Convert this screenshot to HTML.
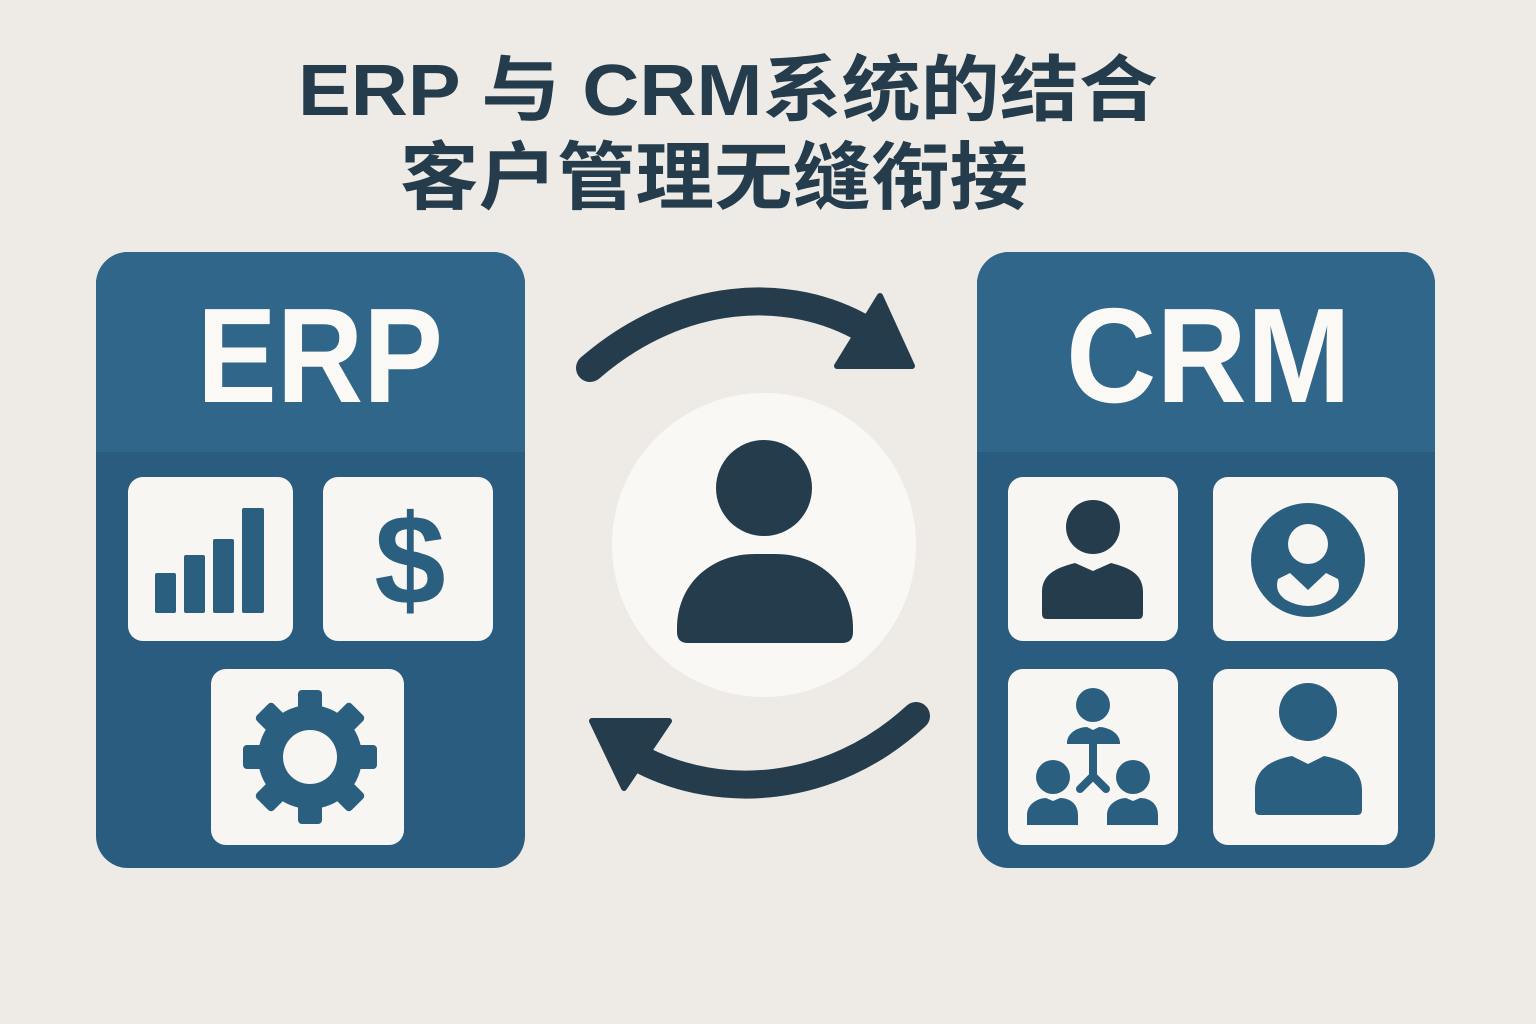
<!DOCTYPE html>
<html><head><meta charset="utf-8"><style>
html,body{margin:0;padding:0;background:#eeebe7;}
svg{display:block;}
</style></head><body>
<svg width="1536" height="1024" viewBox="0 0 1536 1024" xmlns="http://www.w3.org/2000/svg">
<rect width="1536" height="1024" fill="#eeebe7"/>
<g font-family="'Liberation Sans','Noto Sans CJK SC',sans-serif" font-weight="bold" fill="#243c4b">
<text x="298" y="115" font-size="72" textLength="860" lengthAdjust="spacingAndGlyphs">ERP 与 CRM系统的结合</text>
<text x="400" y="203" font-size="74" textLength="628" lengthAdjust="spacingAndGlyphs">客户管理无缝衔接</text>
</g>
<defs>
<clipPath id="cl"><rect x="96" y="252" width="429" height="616" rx="32"/></clipPath>
<clipPath id="cr"><rect x="977" y="252" width="458" height="616" rx="32"/></clipPath>
</defs>
<g clip-path="url(#cl)">
<rect x="96" y="252" width="429" height="616" fill="#295c7e"/>
<rect x="96" y="252" width="429" height="200" fill="#30668a"/>
</g>
<g clip-path="url(#cr)">
<rect x="977" y="252" width="458" height="616" fill="#295c7e"/>
<rect x="977" y="252" width="458" height="200" fill="#30668a"/>
</g>
<g font-family="'Liberation Sans',sans-serif" font-weight="bold" fill="#fbf9f6">
<text x="197" y="402" font-size="135" textLength="246" lengthAdjust="spacingAndGlyphs">ERP</text>
<text x="1066" y="402" font-size="135" textLength="285" lengthAdjust="spacingAndGlyphs">CRM</text>
</g>
<g fill="#f8f6f3">
<rect x="128" y="477" width="165" height="164" rx="15"/>
<rect x="323" y="477" width="170" height="164" rx="15"/>
<rect x="211" y="669" width="193" height="176" rx="15"/>
<rect x="1008" y="477" width="170" height="164" rx="15"/>
<rect x="1213" y="477" width="185" height="164" rx="15"/>
<rect x="1008" y="669" width="170" height="176" rx="15"/>
<rect x="1213" y="669" width="185" height="176" rx="15"/>
</g>
<g fill="#2b5f80">
<rect x="155" y="573" width="21" height="40" rx="2"/>
<rect x="184" y="555" width="21" height="58" rx="2"/>
<rect x="213" y="539" width="21" height="74" rx="2"/>
<rect x="242" y="508" width="22" height="105" rx="2"/>
</g>
<text x="410" y="604" font-family="'Liberation Sans',sans-serif" font-weight="bold" font-size="128" fill="#2b5f80" text-anchor="middle">$</text>
<g fill="#2b5f80" transform="translate(310,757)">
<circle r="52"/>
<rect x="-12" y="-67" width="24" height="30" rx="4"/>
<rect x="-12" y="-67" width="24" height="30" rx="4" transform="rotate(45)"/>
<rect x="-12" y="-67" width="24" height="30" rx="4" transform="rotate(90)"/>
<rect x="-12" y="-67" width="24" height="30" rx="4" transform="rotate(135)"/>
<rect x="-12" y="-67" width="24" height="30" rx="4" transform="rotate(180)"/>
<rect x="-12" y="-67" width="24" height="30" rx="4" transform="rotate(225)"/>
<rect x="-12" y="-67" width="24" height="30" rx="4" transform="rotate(270)"/>
<rect x="-12" y="-67" width="24" height="30" rx="4" transform="rotate(315)"/>
<circle r="27" fill="#f8f6f3"/>
</g>
<circle cx="764" cy="545" r="152" fill="#faf8f5"/>
<g fill="#243c4b">
<circle cx="764" cy="488" r="48"/>
<path d="M677,628 C677,585 710,554 755,554 L775,554 C820,554 853,585 853,628 L853,632 Q853,643 842,643 L688,643 Q677,643 677,632 Z"/>
</g>
<g stroke="#243c4b" stroke-width="28" fill="none" stroke-linecap="round">
<path d="M590,368 C680,290 790,285 866,330"/>
<path d="M916,716 C830,795 720,800 642,760"/>
</g>
<g fill="#243c4b" stroke="#243c4b" stroke-width="6" stroke-linejoin="round">
<path d="M880,296 L912,366 L837,366 Z"/>
<path d="M592,721 L669,721 L624,788 Z"/>
</g>
<g fill="#243c4b">
<circle cx="1093" cy="527" r="27"/>
<path d="M1042,592 C1042,575 1055,568 1075,563 L1093,571 L1111,563 C1131,568 1143,575 1143,592 L1143,614 Q1143,619 1138,619 L1047,619 Q1042,619 1042,614 Z"/>
</g>
<circle cx="1308" cy="560" r="57" fill="#2b5f80"/>
<circle cx="1308" cy="544" r="20" fill="#f8f6f3"/>
<path d="M1278,579 L1290,573 L1308,590 L1326,573 L1338,579 Q1342,592 1330,600 Q1308,612 1286,600 Q1274,592 1278,579 Z" fill="#f8f6f3"/>
<g fill="#2b5f80">
<circle cx="1093" cy="705" r="17"/>
<path d="M1067,743 C1067,733 1078,727 1087,727 L1093,730 L1099,727 C1108,727 1120,733 1120,743 L1120,744 L1067,744 Z"/>
<rect x="1089" y="742" width="8" height="34"/>
<path d="M1080,789 L1093,776 L1106,789" stroke="#2b5f80" stroke-width="8" fill="none" stroke-linecap="round"/>
<circle cx="1053" cy="777" r="17"/>
<path d="M1027,815 C1027,804 1038,798 1046,798 L1053,801 L1060,798 C1070,798 1078,804 1078,815 L1078,825 L1027,825 Z"/>
<circle cx="1133" cy="777" r="17"/>
<path d="M1107,815 C1107,804 1118,798 1126,798 L1133,801 L1140,798 C1150,798 1158,804 1158,815 L1158,825 L1107,825 Z"/>
<circle cx="1308" cy="712" r="29"/>
<path d="M1255,790 C1255,770 1270,760 1292,756 L1308,764 L1324,756 C1346,760 1362,770 1362,790 L1362,810 Q1362,815 1357,815 L1260,815 Q1255,815 1255,810 Z"/>
</g>
</svg>
</body></html>
